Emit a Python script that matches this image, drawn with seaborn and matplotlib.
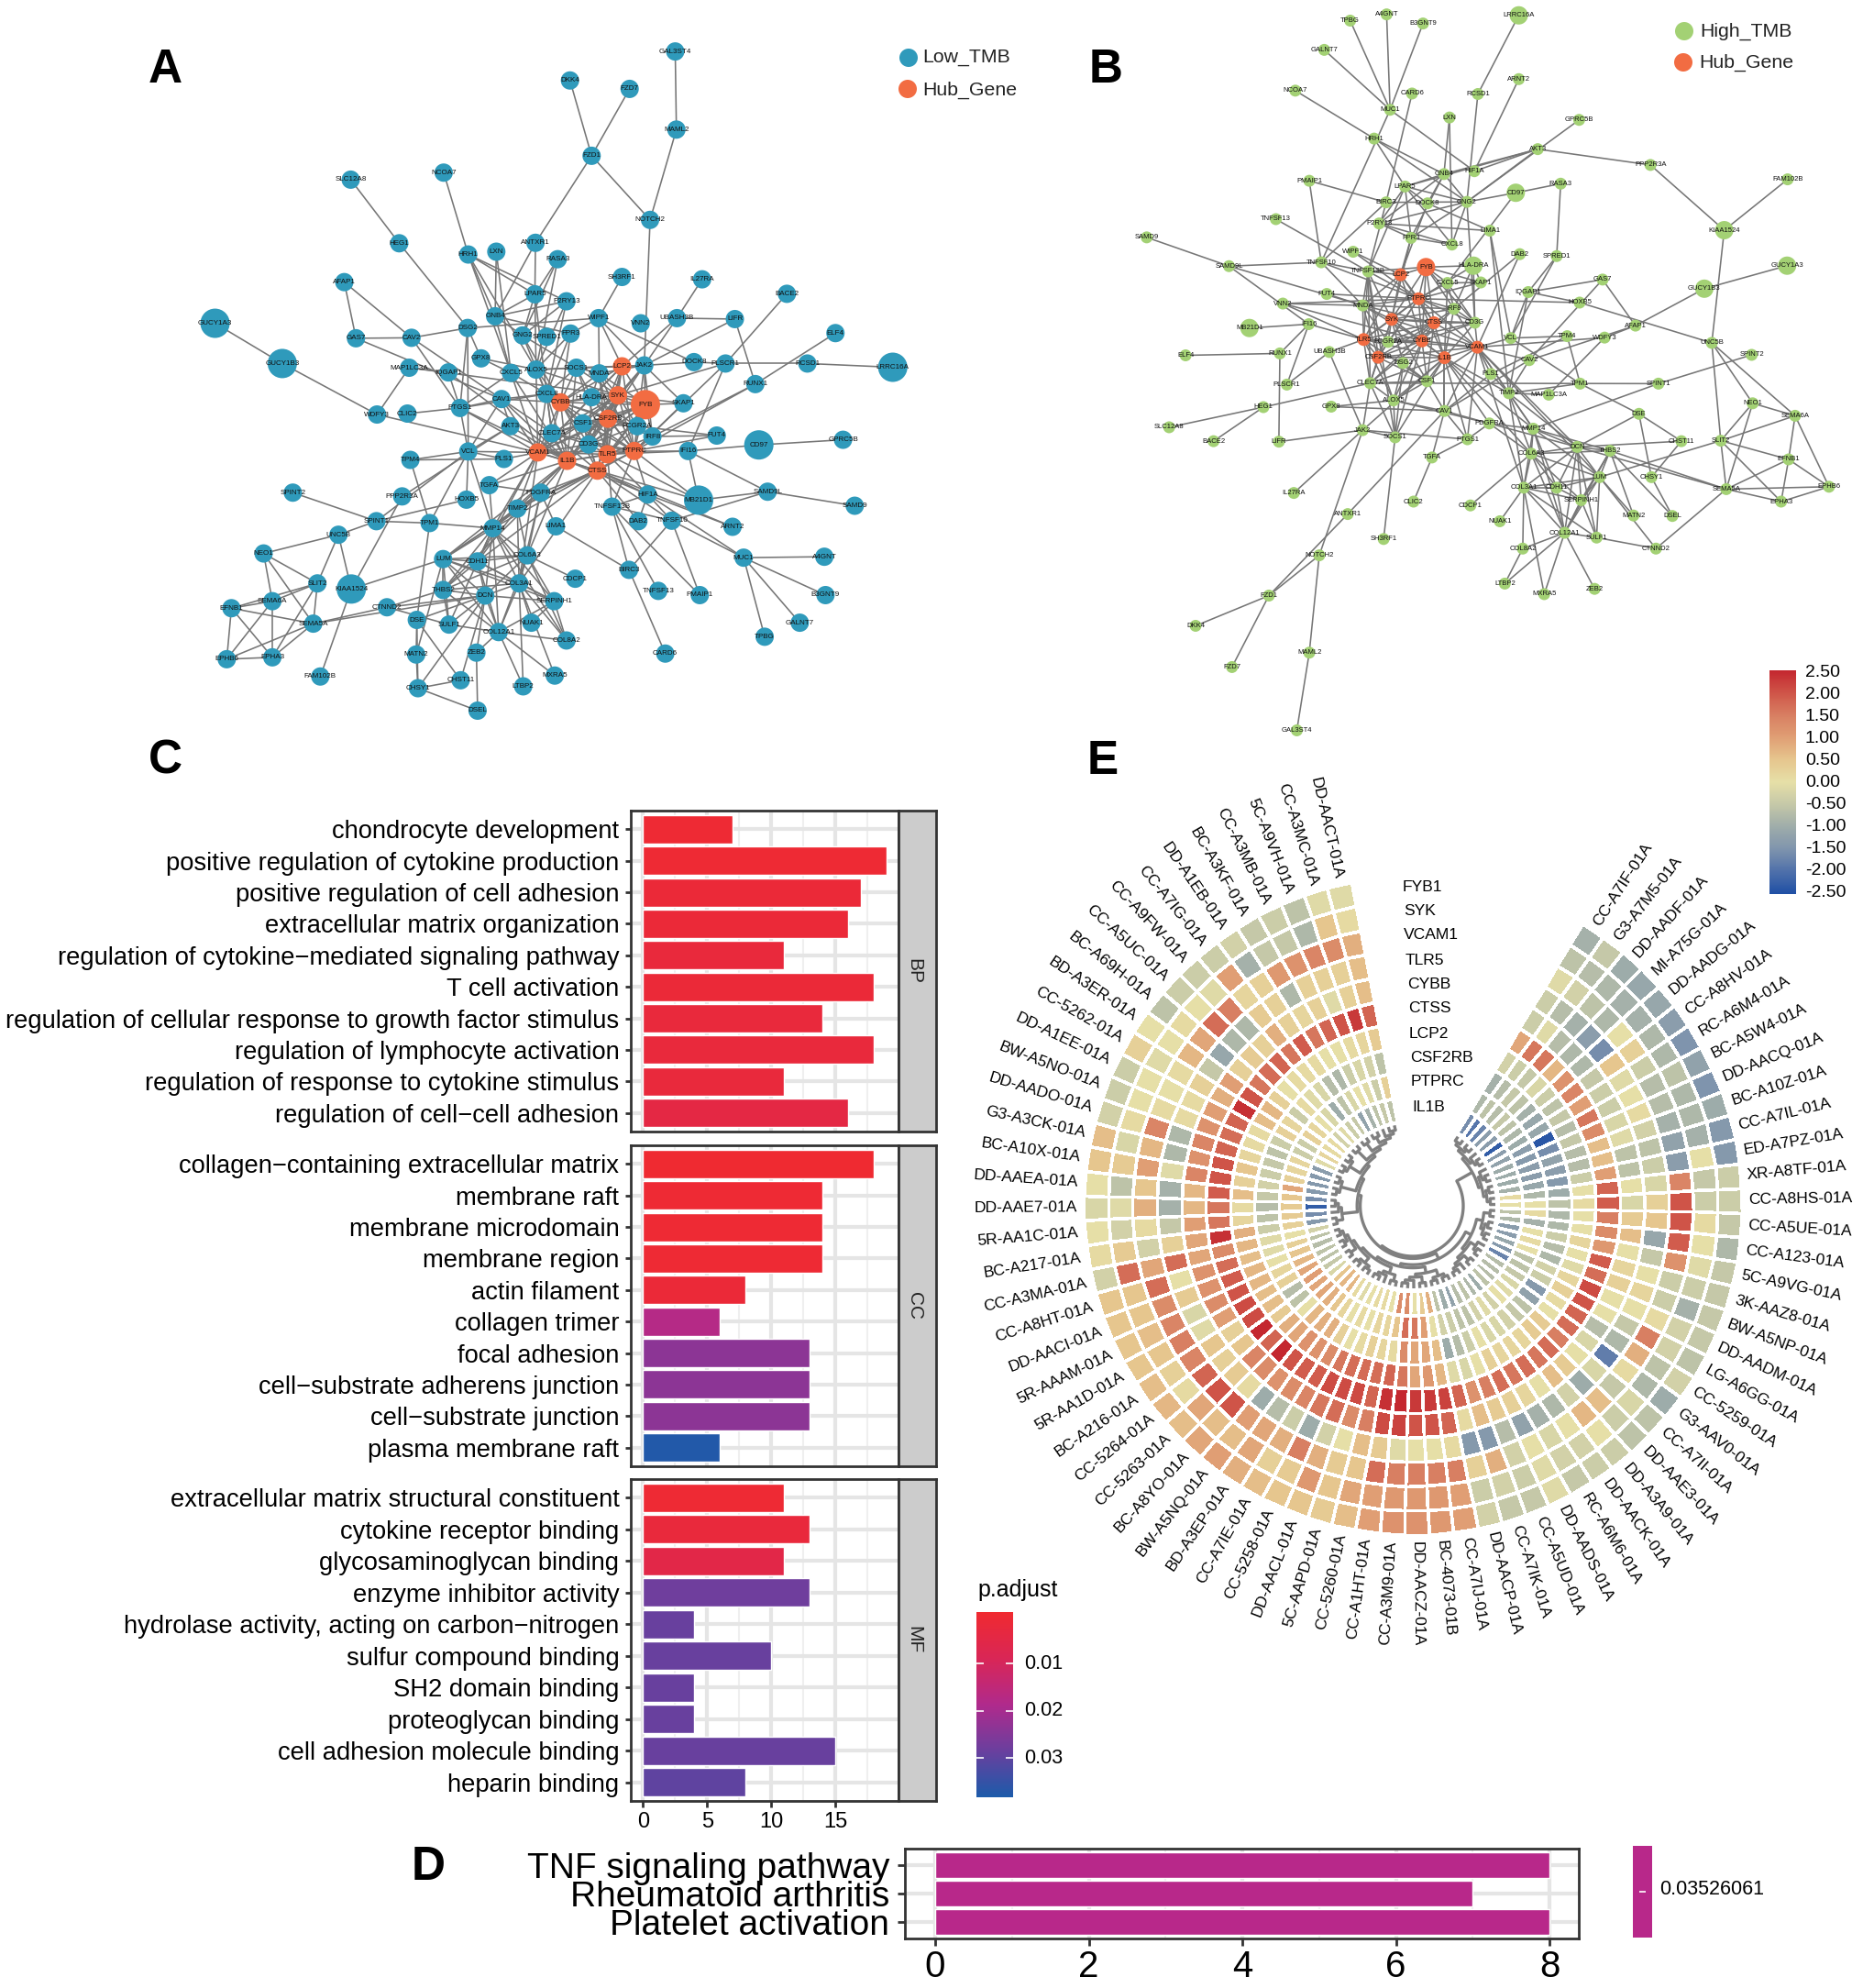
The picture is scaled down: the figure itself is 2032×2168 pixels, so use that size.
import numpy as np
import pandas as pd
import matplotlib
matplotlib.use("Agg")
import matplotlib.pyplot as plt
from matplotlib.collections import LineCollection
from matplotlib.colors import LinearSegmentedColormap
import seaborn as sns

# === Panel A network (layout units of the drawing, 1568 x 1568) ===
names_a = ["GAL3ST4","DKK4","FZD7","MAML2","FZD1","NOTCH2","NCOA7","SLC12A8","HEG1","ANTXR1","HRH1","LXN","RASA3","SH3RF1","IL27RA","BACE2","AFAP1","LPAR5","P2RY13","GNB4","WIPF1","VNN2","UBASH3B","LIFR","ELF4","GUCY1A3","GAS7","CAV2","DSG2","GNG2","SPRED1","FPR3","GPX8","MAP1LC3A","IQGAP1","CXCL5","ALOX5","SOCS1","MNDA","LCP2","JAK2","DOCK8","PLSCR1","RCSD1","LRRC16A","GUCY1B3","RUNX1","CXCL8","HLA-DRA","SYK","FYB","SKAP1","CYBB","CAV1","WDFY3","CLIC2","PTGS1","CSF2RB","CSF1","FCGR2A","AKT3","CLEC7A","IRF8","FUT4","CD97","GPRC5B","CD3G","VCAM1","PLS1","IL1B","TLR5","PTPRC","IFI16","TPM4","VCL","CTSS","TGFA","PDGFRA","HOXB5","PPP2R3A","SPINT2","HIF1A","MB21D1","SAMD9L","SAMD9","TNFSF13B","TIMP2","DAB2","TNFSF10","ARNT2","SPINT1","TPM1","LIMA1","MMP14","UNC5B","NEO1","MUC1","A4GNT","LUM","CDH11","COL6A3","CDCP1","BIRC3","SLIT2","KIAA1524","COL3A1","THBS2","DCN","TNFSF13","PMAIP1","B3GNT9","SEMA6A","SERPINH1","EFNB1","CTNND2","DSE","SULF1","SEMA5A","NUAK1","GALNT7","COL12A1","COL8A2","TPBG","MATN2","ZEB2","CARD6","EPHB6","EPHA3","FAM102B","MXRA5","CHST11","LTBP2","CHSY1","DSEL"]
x_a = [998,818,920,1000,855,955,602,443,526,759,644,692,797,907,1044,1189,432,758,812,690,867,939,1001,1100,1272,211,452,547,643,737,778,819,666,543,610,717,760,829,868,907,945,1030,1084,1224,1370,326,1135,778,855,900,947,1012,802,701,488,540,630,883,840,933,716,787,959,1069,1141,1285,850,763,705,813,882,928,1020,545,644,865,680,768,641,531,344,951,1038,1156,1305,890,728,935,992,1096,487,578,794,686,422,294,1115,1253,601,660,745,827,919,386,444,731,601,673,969,1040,1255,309,791,239,505,556,611,379,752,1211,696,812,1151,555,658,981,231,309,391,792,631,738,558,660]
y_a = [110,172,190,277,333,470,369,384,520,519,544,538,554,592,597,628,603,629,644,676,680,691,680,682,712,691,723,722,701,717,720,713,766,786,796,797,790,786,798,783,781,774,777,777,785,777,821,842,849,845,865,862,860,853,886,884,872,895,905,911,911,926,933,931,951,940,950,967,981,985,971,964,964,983,965,1006,1037,1053,1068,1061,1053,1057,1069,1051,1081,1083,1087,1114,1113,1126,1114,1118,1125,1129,1143,1183,1192,1190,1195,1200,1187,1237,1218,1247,1259,1247,1261,1273,1263,1272,1272,1285,1285,1300,1298,1325,1335,1333,1331,1331,1351,1369,1361,1399,1395,1397,1409,1405,1446,1444,1454,1467,1471,1519]
hubs_a = ["LCP2","SYK","FYB","CYBB","CSF2RB","VCAM1","IL1B","TLR5","PTPRC","CTSS"]
big_a = ["GUCY1A3","GUCY1B3","LRRC16A","CD97","MB21D1","KIAA1524","FYB"]
edges_a = """GAL3ST4:MAML2 MAML2:NOTCH2 NOTCH2:FZD1 DKK4:FZD1 FZD7:FZD1 FZD1:ANTXR1 NOTCH2:JAK2 NCOA7:HRH1 SLC12A8:HEG1 HEG1:DSG2
ANTXR1:GNB4 ANTXR1:LPAR5 HRH1:LPAR5 HRH1:GNB4 HRH1:ALOX5 HRH1:CXCL5 HRH1:P2RY13 LXN:CXCL5 LXN:GNB4 RASA3:GNG2 RASA3:LPAR5 RASA3:ALOX5 SH3RF1:WIPF1 IL27RA:UBASH3B BACE2:PLSCR1
AFAP1:GAS7 AFAP1:CAV2 GAS7:CAV2 GAS7:CAV1 CAV2:DSG2 CAV2:PTGS1 CAV2:CAV1 DSG2:PTGS1 DSG2:VCL DSG2:WIPF1 DSG2:GPX8 WIPF1:FPR3 WIPF1:JAK2 WIPF1:MNDA WIPF1:LCP2 WIPF1:DOCK8 LIFR:UBASH3B LIFR:JAK2 LIFR:RUNX1 ELF4:RUNX1 RUNX1:IRF8
RCSD1:LRRC16A RCSD1:PLSCR1 PLSCR1:DOCK8 DOCK8:JAK2 PLSCR1:IFI16 PLSCR1:SYK GUCY1A3:GUCY1B3 GUCY1B3:WDFY3 WDFY3:MAP1LC3A WDFY3:VCAM1 MAP1LC3A:IQGAP1 MAP1LC3A:SYK IQGAP1:PTGS1 CLIC2:PTGS1 PTGS1:CAV1 PTGS1:CXCL8 PTGS1:VCL IQGAP1:IL1B
FUT4:IRF8 FUT4:FCGR2A FUT4:PTPRC CD97:IFI16 CD97:GPRC5B IFI16:PTPRC IFI16:TLR5 IFI16:MB21D1 IFI16:SAMD9L MB21D1:SAMD9L SAMD9L:SAMD9 MB21D1:TLR5 MB21D1:PTPRC MB21D1:CTSS
CAV1:CXCL8 CAV1:VCL CAV1:AKT3 CAV1:CLEC7A AKT3:VCL AKT3:IL1B GPX8:ALOX5 GPX8:CXCL5 GNB4:LPAR5 GNB4:GNG2 GNB4:FPR3 GNB4:P2RY13 GNB4:CXCL5 GNG2:LPAR5 GNG2:P2RY13 GNG2:CXCL8 GNG2:SOCS1 LPAR5:CXCL8 LPAR5:ALOX5 P2RY13:ALOX5 P2RY13:CXCL8 FPR3:ALOX5 FPR3:CXCL8 CXCL5:CXCL8 CXCL5:PTGS1 CXCL5:VCAM1 ALOX5:CXCL8
VCL:TPM4 VCL:TPM1 VCL:PLS1 VCL:VCAM1 VCL:MMP14 VCL:HOXB5 VCL:SPINT1 TPM4:PLS1 TPM4:TPM1 PLS1:VCAM1 TGFA:PDGFRA TGFA:IL1B TGFA:VCAM1 TGFA:MMP14 HOXB5:SPINT1 PPP2R3A:AKT3 PPP2R3A:KIAA1524 SPINT2:SPINT1 SPINT1:TPM1 SPINT1:UNC5B TPM1:MMP14 TPM1:DSE
HIF1A:TNFSF10 HIF1A:ARNT2 HIF1A:MUC1 HIF1A:TNFSF13B HIF1A:DAB2 TNFSF13B:TNFSF13 TNFSF13B:BIRC3 TNFSF13B:PMAIP1 TNFSF13B:TNFSF10 DAB2:CTSS TNFSF10:BIRC3 TNFSF10:PMAIP1 TNFSF10:SAMD9L LIMA1:BIRC3 LIMA1:PDGFRA BIRC3:CARD6 MUC1:A4GNT MUC1:B3GNT9 MUC1:GALNT7 MUC1:TPBG MUC1:TNFSF10
UNC5B:NEO1 UNC5B:SLIT2 UNC5B:KIAA1524 NEO1:SLIT2 NEO1:SEMA6A NEO1:SEMA5A SLIT2:SEMA6A SLIT2:EFNB1 SLIT2:SEMA5A SLIT2:EPHA3 SEMA6A:EFNB1 SEMA6A:EPHB6 SEMA6A:EPHA3 EFNB1:SEMA5A EFNB1:EPHB6 EFNB1:EPHA3 SEMA5A:EPHB6 SEMA5A:EPHA3 EPHB6:EPHA3 SEMA5A:CTNND2 SEMA5A:DCN KIAA1524:LUM KIAA1524:FAM102B CTNND2:SULF1 CTNND2:DCN
MMP14:COL6A3 MMP14:LUM MMP14:CDH11 MMP14:COL3A1 MMP14:THBS2 MMP14:DCN MMP14:COL12A1 MMP14:TIMP2 MMP14:SERPINH1 MMP14:PDGFRA MMP14:SULF1 MMP14:COL8A2 TIMP2:PDGFRA TIMP2:COL6A3 TIMP2:LUM TIMP2:CDH11 TIMP2:COL3A1 PDGFRA:COL6A3 PDGFRA:COL3A1 PDGFRA:LUM PDGFRA:THBS2
LUM:CDH11 LUM:COL6A3 LUM:COL3A1 LUM:THBS2 LUM:DCN LUM:COL12A1 LUM:SERPINH1 LUM:SULF1 CDH11:COL6A3 CDH11:COL3A1 CDH11:DCN CDH11:THBS2 CDH11:COL12A1 CDH11:SERPINH1 COL6A3:COL3A1 COL6A3:DCN COL6A3:THBS2 COL6A3:SERPINH1 COL6A3:CDCP1 COL6A3:COL12A1 COL6A3:COL8A2 COL3A1:THBS2 COL3A1:DCN COL3A1:COL12A1 COL3A1:SERPINH1 COL3A1:NUAK1 COL3A1:COL8A2 COL3A1:MXRA5 COL3A1:LTBP2
THBS2:DCN THBS2:SULF1 THBS2:CTNND2 THBS2:COL12A1 DCN:SERPINH1 DCN:COL12A1 DCN:SULF1 DCN:DSE DCN:CHSY1 DCN:ZEB2 DCN:CHST11 SERPINH1:COL8A2 SERPINH1:COL12A1 SERPINH1:NUAK1 COL12A1:SULF1 COL12A1:COL8A2 COL12A1:MXRA5 COL12A1:LTBP2 COL12A1:ZEB2 DSE:MATN2 DSE:CHST11 DSE:CHSY1 MATN2:CHSY1 MATN2:LUM CHSY1:CHST11 CHSY1:DSEL DSEL:ZEB2""".split()
# hub to partner links for the dense core of A
core_a = """FYB:SYK FYB:SKAP1 FYB:LCP2 FYB:CYBB FYB:CSF2RB FYB:FCGR2A FYB:IRF8 FYB:PTPRC FYB:TLR5 FYB:HLA-DRA FYB:JAK2 FYB:MNDA FYB:CD3G FYB:CSF1 FYB:CTSS FYB:IL1B FYB:VCAM1
SYK:LCP2 SYK:CYBB SYK:CSF2RB SYK:FCGR2A SYK:PTPRC SYK:TLR5 SYK:CD3G SYK:HLA-DRA SYK:MNDA SYK:JAK2 SYK:CLEC7A SYK:CSF1 SYK:IL1B SYK:VCAM1 SYK:CTSS SYK:ALOX5 SYK:SOCS1 SYK:SKAP1
LCP2:CSF2RB LCP2:PTPRC LCP2:HLA-DRA LCP2:UBASH3B LCP2:JAK2 LCP2:CD3G LCP2:CYBB LCP2:VCAM1 LCP2:SOCS1 LCP2:ALOX5 LCP2:TLR5 LCP2:CTSS JAK2:UBASH3B JAK2:SKAP1 JAK2:PTPRC JAK2:IL1B JAK2:MNDA JAK2:SOCS1 JAK2:IRF8
CYBB:CSF2RB CYBB:FCGR2A CYBB:TLR5 CYBB:PTPRC CYBB:CD3G CYBB:CTSS CYBB:IL1B CYBB:VCAM1 CYBB:CSF1 CYBB:CLEC7A CYBB:CXCL8 CYBB:CAV1 CYBB:HLA-DRA CYBB:ALOX5 CYBB:GNG2 CYBB:FPR3 CYBB:SOCS1 CYBB:MNDA
CSF2RB:TLR5 CSF2RB:PTPRC CSF2RB:CTSS CSF2RB:IL1B CSF2RB:VCAM1 CSF2RB:CD3G CSF2RB:FCGR2A CSF2RB:HLA-DRA CSF2RB:MNDA CSF2RB:JAK2 CSF2RB:IRF8 CSF2RB:CSF1 CSF2RB:CLEC7A
TLR5:PTPRC TLR5:CTSS TLR5:IL1B TLR5:VCAM1 TLR5:CD3G TLR5:FCGR2A TLR5:MNDA TLR5:TNFSF13B TLR5:SOCS1 TLR5:IRF8 TLR5:CSF1 TLR5:HIF1A
PTPRC:CTSS PTPRC:IL1B PTPRC:VCAM1 PTPRC:CD3G PTPRC:IRF8 PTPRC:FCGR2A PTPRC:MNDA PTPRC:CSF1 PTPRC:CLEC7A PTPRC:HIF1A PTPRC:TNFSF13B PTPRC:TIMP2 PTPRC:HLA-DRA PTPRC:SKAP1 PTPRC:PLSCR1 PTPRC:RUNX1
IL1B:VCAM1 IL1B:CTSS IL1B:PDGFRA IL1B:MMP14 IL1B:TIMP2 IL1B:CXCL8 IL1B:CXCL5 IL1B:PTGS1 IL1B:SOCS1 IL1B:HIF1A IL1B:COL6A3 IL1B:LUM IL1B:CAV1 IL1B:CD3G IL1B:CSF1 IL1B:CLEC7A
VCAM1:CTSS VCAM1:MMP14 VCAM1:CAV1 VCAM1:PTGS1 VCAM1:ALOX5 VCAM1:CXCL8 VCAM1:CD3G VCAM1:TIMP2 VCAM1:COL3A1 VCAM1:CDH11 VCAM1:CLEC7A VCAM1:CSF1 VCAM1:HLA-DRA
CTSS:MMP14 CTSS:HIF1A CTSS:PDGFRA CTSS:ARNT2 CTSS:TIMP2 CTSS:TNFSF10 CTSS:COL3A1 CTSS:CDH11 CTSS:CD3G CTSS:CLEC7A CTSS:CSF1 FCGR2A:IRF8 FCGR2A:CD3G FCGR2A:HLA-DRA FCGR2A:CSF1 CD3G:CSF1 CD3G:CLEC7A CLEC7A:CSF1 CLEC7A:CXCL8 HLA-DRA:CD3G HLA-DRA:MNDA HLA-DRA:SOCS1 MNDA:SOCS1 SOCS1:ALOX5 SOCS1:CXCL8 CXCL8:CLEC7A""".split()

# === Panel B network ===
names_b = ["TPBG","A4GNT","B3GNT9","LRRC16A","GALNT7","ARNT2","NCOA7","CARD6","RCSD1","MUC1","LXN","GPRC5B","HRH1","AKT3","PPP2R3A","HIF1A","GNB4","PMAIP1","FAM102B","RASA3","LPAR5","CD97","BIRC3","DOCK8","GNG2","TNFSF13","P2RY13","KIAA1524","LIMA1","SAMD9","FPR3","CXCL8","WIPF1","DAB2","SPRED1","GUCY1A3","TNFSF10","SAMD9L","HLA-DRA","FYB","TNFSF13B","LCP2","CXCL5","SKAP1","GAS7","GUCY1B3","IQGAP1","FUT4","PTPRC","HOXB5","VNN2","MNDA","IRF8","SYK","CTSS","CD3G","IFI16","MB21D1","AFAP1","TPM4","VCL","WDFY3","TLR5","FCGR2A","CYBB","UNC5B","VCAM1","UBASH3B","RUNX1","ELF4","SPINT2","IL1B","CSF2RB","DSG2","CAV2","PLS1","CSF1","TPM1","PLSCR1","CLEC7A","SPINT1","TIMP2","MAP1LC3A","ALOX5","NEO1","GPX8","HEG1","CAV1","DSE","SEMA6A","PDGFRA","SLC12A8","MMP14","JAK2","SOCS1","BACE2","PTGS1","LIFR","CHST11","SLIT2","DCN","THBS2","COL6A3","TGFA","EFNB1","CHSY1","LUM","IL27RA","COL3A1","CDH11","EPHB6","SEMA5A","SERPINH1","EPHA3","CLIC2","CDCP1","ANTXR1","MATN2","DSEL","NUAK1","COL12A1","SULF1","SH3RF1","CTNND2","COL8A2","NOTCH2","LTBP2","ZEB2","MXRA5","FZD1","DKK4","MAML2","FZD7","GAL3ST4"]
x_b = [538,611,684,876,486,876,428,662,794,618,737,997,586,914,1140,787,726,456,1415,960,648,870,610,693,772,389,596,1288,818,130,660,742,544,878,952,1414,480,295,785,690,574,639,733,800,1044,1248,895,491,675,998,403,563,746,621,706,788,455,336,1110,973,860,1048,565,614,682,1263,793,496,397,208,1343,727,594,644,897,820,692,999,411,578,1156,856,936,625,1345,500,364,727,1117,1430,817,175,905,563,628,264,773,395,1202,1281,993,1059,901,702,1417,1142,1038,425,886,952,1498,1292,1001,1402,665,779,533,1106,1184,838,968,1032,605,1151,884,476,848,1028,927,375,228,456,301,431]
y_b = [43,30,49,32,104,165,189,195,196,229,245,250,289,311,344,357,363,377,374,383,389,402,422,424,421,457,466,480,481,495,496,510,525,530,534,554,547,555,554,557,566,573,590,589,583,602,609,613,623,631,633,637,644,666,673,673,676,684,679,701,705,704,708,713,711,715,724,734,737,741,740,746,745,757,751,780,795,800,802,799,800,820,823,835,841,848,849,857,863,867,883,891,894,897,912,920,916,921,920,919,932,940,946,954,958,995,995,1028,1017,1017,1015,1020,1043,1046,1046,1054,1072,1075,1076,1087,1111,1121,1124,1144,1144,1158,1217,1228,1239,1242,1305,1361,1391,1523]
hubs_b = ["FYB","LCP2","PTPRC","SYK","CTSS","TLR5","CYBB","VCAM1","IL1B","CSF2RB"]
big_b = ["LRRC16A","CD97","KIAA1524","GUCY1A3","GUCY1B3","MB21D1","HLA-DRA","FYB"]
edges_b = """TPBG:MUC1 A4GNT:MUC1 B3GNT9:MUC1 GALNT7:MUC1 LRRC16A:RCSD1 RCSD1:GNG2 ARNT2:HIF1A NCOA7:HRH1 CARD6:BIRC3 MUC1:HIF1A MUC1:TNFSF10 LXN:CXCL8 LXN:GNB4 GPRC5B:GNG2 HRH1:GNB4 HRH1:GNG2 HRH1:LPAR5 AKT3:HIF1A AKT3:GNB4 AKT3:PPP2R3A AKT3:LPAR5 AKT3:GNG2 PPP2R3A:KIAA1524 FAM102B:KIAA1524 KIAA1524:UNC5B RASA3:SPRED1 RASA3:CD97 CD97:GNG2 CD97:CXCL5 GNG2:GNB4 GNG2:LPAR5 GNG2:P2RY13 GNG2:BIRC3 GNG2:FPR3 GNG2:CXCL8 GNG2:CD3G GNB4:LPAR5 GNB4:P2RY13 GNB4:FPR3 GNB4:DOCK8 LPAR5:P2RY13 LPAR5:CXCL8 LPAR5:FPR3 LPAR5:DOCK8 LPAR5:TNFSF13B P2RY13:FPR3 P2RY13:CXCL8 P2RY13:LIMA1 FPR3:CXCL8 DOCK8:LIMA1 DOCK8:LCP2 BIRC3:TNFSF10 BIRC3:TNFSF13B PMAIP1:BIRC3 PMAIP1:TNFSF10 TNFSF13:TNFSF13B SAMD9:SAMD9L SAMD9L:TNFSF10 SAMD9L:IFI16 SAMD9L:MNDA TNFSF10:TNFSF13B TNFSF10:MNDA TNFSF10:PTPRC
GUCY1A3:GUCY1B3 GUCY1B3:AFAP1 AFAP1:GAS7 AFAP1:CAV2 GAS7:IQGAP1 GAS7:CAV2 IQGAP1:VCL IQGAP1:TIMP2 IQGAP1:SPRED1 HOXB5:UNC5B HOXB5:IQGAP1 HOXB5:PTPRC UNC5B:SLIT2 UNC5B:NEO1 UNC5B:SEMA6A SPINT2:SPINT1 SPINT1:CLEC7A SPINT1:MMP14 TPM4:VCL TPM4:TPM1 VCL:TPM1 VCL:VCAM1 WDFY3:VCAM1 WDFY3:MAP1LC3A WDFY3:AFAP1 CAV2:VCAM1 CAV2:TIMP2 CAV2:CAV1 TPM1:DSE TPM1:TIMP2 TPM4:PLS1 DAB2:IRF8 DAB2:VCAM1 LIMA1:VCL LIMA1:TIMP2 SPRED1:VCL
DSE:DCN DSE:CHSY1 DSE:CHST11 CHST11:DCN CHSY1:DSEL CHSY1:CHST11 THBS2:DSEL NEO1:SEMA6A NEO1:SLIT2 NEO1:SEMA5A SEMA6A:SLIT2 SEMA6A:EFNB1 SEMA6A:EPHB6 SLIT2:EFNB1 SLIT2:SEMA5A SLIT2:EPHA3 SLIT2:LUM EFNB1:SEMA5A EFNB1:EPHB6 EFNB1:EPHA3 SEMA5A:EPHB6 SEMA5A:EPHA3 EPHA3:EPHB6 SEMA5A:CTNND2 SEMA5A:DCN CTNND2:SULF1 CTNND2:LUM
HEG1:SLC12A8 HEG1:BACE2 HEG1:CLEC7A ELF4:RUNX1 RUNX1:LIFR RUNX1:IFI16 LIFR:JAK2 JAK2:IL27RA JAK2:UBASH3B JAK2:NOTCH2 JAK2:SOCS1 JAK2:PTGS1 JAK2:CLEC7A SOCS1:SH3RF1 SOCS1:CLEC7A SOCS1:ALOX5 ANTXR1:CAV1 ANTXR1:FZD1 NOTCH2:FZD1 NOTCH2:MAML2 MAML2:GAL3ST4 FZD1:DKK4 FZD1:FZD7 CLIC2:TGFA PTGS1:TGFA PTGS1:CAV1 TGFA:CAV1 CDCP1:COL6A3 NUAK1:COL3A1 IFI16:MB21D1 IFI16:PLSCR1 PLSCR1:UBASH3B UBASH3B:TLR5 VNN2:MNDA VNN2:PTPRC VNN2:TLR5 VNN2:CYBB FUT4:PTPRC FUT4:MNDA GPX8:ALOX5 GPX8:CAV1 DSG2:ALOX5 DSG2:CSF1 DSG2:SOCS1 MAP1LC3A:TIMP2 CAV1:PDGFRA CAV1:PLS1 CAV1:ALOX5 CAV1:CSF1 CAV1:IL1B PLS1:TIMP2 PLS1:VCAM1 PDGFRA:PTGS1 PDGFRA:ALOX5 PDGFRA:MMP14 PDGFRA:COL6A3 PDGFRA:DCN
TIMP2:MMP14 TIMP2:COL6A3 TIMP2:COL3A1 TIMP2:DCN MMP14:COL6A3 MMP14:COL3A1 MMP14:DCN MMP14:THBS2 MMP14:LUM MMP14:CDH11 MMP14:COL12A1 COL6A3:DCN COL6A3:THBS2 COL6A3:LUM COL6A3:COL3A1 COL6A3:CDH11 COL6A3:SERPINH1 COL6A3:COL12A1 DCN:THBS2 DCN:LUM DCN:COL3A1 DCN:CDH11 DCN:SERPINH1 DCN:COL12A1 DCN:SULF1 THBS2:LUM THBS2:SERPINH1 THBS2:MATN2 THBS2:COL12A1 THBS2:SEMA5A LUM:COL3A1 LUM:CDH11 LUM:SERPINH1 LUM:COL12A1 LUM:SULF1 LUM:MATN2 COL3A1:CDH11 COL3A1:SERPINH1 COL3A1:COL12A1 COL3A1:COL8A2 COL3A1:MXRA5 COL3A1:SULF1 CDH11:SERPINH1 CDH11:COL12A1 SERPINH1:COL12A1 SERPINH1:SULF1 COL12A1:SULF1 COL12A1:COL8A2 COL12A1:MXRA5 COL12A1:ZEB2 COL12A1:LTBP2 COL8A2:LTBP2""".split()
core_b = """FYB:LCP2 FYB:PTPRC FYB:SKAP1 FYB:HLA-DRA FYB:SYK FYB:CXCL5 FYB:IRF8 FYB:CTSS FYB:CD3G FYB:TNFSF13B FYB:CYBB LCP2:PTPRC LCP2:SYK LCP2:MNDA LCP2:TNFSF13B LCP2:TLR5 LCP2:CTSS LCP2:CYBB LCP2:WIPF1 LCP2:FPR3
PTPRC:SYK PTPRC:CTSS PTPRC:TLR5 PTPRC:FCGR2A PTPRC:CYBB PTPRC:VCAM1 PTPRC:IL1B PTPRC:CSF2RB PTPRC:MNDA PTPRC:IRF8 PTPRC:CD3G PTPRC:CXCL5 PTPRC:SKAP1 PTPRC:TNFSF13B PTPRC:HLA-DRA PTPRC:WIPF1
SYK:CTSS SYK:TLR5 SYK:FCGR2A SYK:CYBB SYK:VCAM1 SYK:IL1B SYK:CSF2RB SYK:MNDA SYK:IRF8 SYK:CD3G SYK:TNFSF13B SYK:CLEC7A SYK:CSF1 SYK:DSG2 SYK:FPR3
CTSS:TLR5 CTSS:CYBB CTSS:VCAM1 CTSS:IL1B CTSS:CSF2RB CTSS:FCGR2A CTSS:IRF8 CTSS:CD3G CTSS:CSF1 CTSS:CLEC7A CTSS:MNDA
TLR5:CYBB TLR5:VCAM1 TLR5:IL1B TLR5:CSF2RB TLR5:FCGR2A TLR5:MNDA TLR5:IFI16 TLR5:CSF1 TLR5:ALOX5 TLR5:CLEC7A TLR5:TNFSF13B
CYBB:VCAM1 CYBB:IL1B CYBB:CSF2RB CYBB:FCGR2A CYBB:IRF8 CYBB:CD3G CYBB:CSF1 CYBB:CLEC7A CYBB:MNDA CYBB:SOCS1 CYBB:ALOX5
VCAM1:IL1B VCAM1:CSF2RB VCAM1:CD3G VCAM1:TIMP2 VCAM1:MMP14 VCAM1:COL3A1 VCAM1:DCN VCAM1:LUM VCAM1:CAV1 VCAM1:PTGS1 VCAM1:CSF1 VCAM1:IRF8
IL1B:CSF2RB IL1B:CSF1 IL1B:CAV1 IL1B:PTGS1 IL1B:TIMP2 IL1B:MMP14 IL1B:COL6A3 IL1B:PDGFRA IL1B:SOCS1 IL1B:CD3G IL1B:IRF8 IL1B:CLEC7A IL1B:ALOX5 IL1B:JAK2 IL1B:CXCL5
CSF2RB:FCGR2A CSF2RB:CSF1 CSF2RB:CLEC7A CSF2RB:ALOX5 CSF2RB:MNDA CSF2RB:TNFSF13B MNDA:TNFSF13B MNDA:FCGR2A MNDA:IRF8 CXCL5:IRF8 CXCL5:SKAP1 CXCL5:CD3G IRF8:CD3G FCGR2A:CD3G HLA-DRA:CD3G HLA-DRA:SKAP1 HLA-DRA:IRF8 TNFSF13B:CLEC7A TNFSF13B:SOCS1 CLEC7A:ALOX5 CLEC7A:CSF1 CSF1:ALOX5""".split()

# === Panel C enrichment bars ===
bp_terms = ["chondrocyte development","positive regulation of cytokine production","positive regulation of cell adhesion","extracellular matrix organization","regulation of cytokine−mediated signaling pathway","T cell activation","regulation of cellular response to growth factor stimulus","regulation of lymphocyte activation","regulation of response to cytokine stimulus","regulation of cell−cell adhesion"]
bp_counts = [7,19,17,16,11,18,14,18,11,16]
bp_p = [.001,.001,.002,.002,.003,.002,.003,.003,.003,.005]
cc_terms = ["collagen−containing extracellular matrix","membrane raft","membrane microdomain","membrane region","actin filament","collagen trimer","focal adhesion","cell−substrate adherens junction","cell−substrate junction","plasma membrane raft"]
cc_counts = [18,14,14,14,8,6,13,13,13,6]
cc_p = [.0003,.001,.001,.001,.002,.018,.024,.024,.024,.0375]
mf_terms = ["extracellular matrix structural constituent","cytokine receptor binding","glycosaminoglycan binding","enzyme inhibitor activity","hydrolase activity, acting on carbon−nitrogen","sulfur compound binding","SH2 domain binding","proteoglycan binding","cell adhesion molecule binding","heparin binding"]
mf_counts = [11,13,11,13,4,10,4,4,15,8]
mf_p = [.001,.003,.006,.028,.029,.029,.029,.029,.029,.030]

# === Panel D ===
kegg_terms = ["TNF signaling pathway","Rheumatoid arthritis","Platelet activation"]
kegg_counts = [8,7,8]

# === Panel E circular heatmap, outer ring first ===
samples = ["CC-A7IF-01A","G3-A7M5-01A","DD-AADF-01A","MI-A75G-01A","DD-AADG-01A","CC-A8HV-01A","RC-A6M4-01A","BC-A5W4-01A","DD-AACQ-01A","BC-A10Z-01A","CC-A7IL-01A","ED-A7PZ-01A","XR-A8TF-01A","CC-A8HS-01A","CC-A5UE-01A","CC-A123-01A","5C-A9VG-01A","3K-AAZ8-01A","BW-A5NP-01A","DD-AADM-01A","LG-A6GG-01A","CC-5259-01A","G3-AAV0-01A","CC-A7II-01A","DD-AAE3-01A","DD-A3A9-01A","DD-AACK-01A","RC-A6M6-01A","DD-AADS-01A","CC-A5UD-01A","CC-A7IK-01A","DD-AACP-01A","CC-A7IJ-01A","BC-4073-01B","DD-AACZ-01A","CC-A3M9-01A","CC-A1HT-01A","CC-5260-01A","5C-AAPD-01A","DD-AACL-01A","CC-5258-01A","CC-A7IE-01A","BD-A3EP-01A","BW-A5NQ-01A","BC-A8YO-01A","CC-5263-01A","CC-5264-01A","BC-A216-01A","5R-AA1D-01A","5R-AAAM-01A","DD-AACI-01A","CC-A8HT-01A","CC-A3MA-01A","BC-A217-01A","5R-AA1C-01A","DD-AAE7-01A","DD-AAEA-01A","BC-A10X-01A","G3-A3CK-01A","DD-AADO-01A","BW-A5NO-01A","DD-A1EE-01A","CC-5262-01A","BD-A3ER-01A","BC-A69H-01A","CC-A5UC-01A","CC-A9FW-01A","CC-A7IG-01A","DD-A1EB-01A","BC-A3KF-01A","CC-A3MB-01A","5C-A9VH-01A","CC-A3MC-01A","DD-AACT-01A"]
genes = ["FYB1","SYK","VCAM1","TLR5","CYBB","CTSS","LCP2","CSF2RB","PTPRC","IL1B"]
fyb1 = [-.9,-.5,-1.0,-1.1,-1.1,-1.3,-1.5,-1.2,-1.5,-1.0,-1.4,-1.4,-.4,-.4,-.5,-.8,-.5,-.5,-.5,-.5,-.6,-.3,-1.0,-.6,-.6,-.4,-.4,-.5,-.1,-.5,-.5,-.3,1.0,1.1,1.2,1.2,1.0,.6,.4,.5,.5,.6,.8,1.0,.9,.6,.7,.6,.5,.5,.5,.5,-.3,.1,0,-.2,0,.5,.6,-.3,-.4,-.4,.3,0,-.6,-.4,-.4,-.4,-.3,-.5,-.4,-.6,-.1,-.1]
syk = [-.6,-.7,-.8,-.9,-.9,-.8,-.8,-.6,-.8,-.8,-.9,0,-.5,-.4,.1,0,-.1,-.4,-.9,-.3,-.3,-.6,-.8,-.2,-.4,0,-.3,-.3,-.1,-.4,-.3,-.4,1.0,1.1,1.1,1.1,1.0,.9,.5,1.1,.4,.3,.9,.6,.6,.9,.1,.3,.5,.6,.5,.5,1.7,.4,-.3,-.1,-.6,.4,-.2,.1,0,0,-.1,0,.1,0,-.1,1.0,-.9,-.5,-.5,-.8,.5,.1]
vcam1 = [-.1,-.3,-.6,-.8,0,.3,-.4,-.7,-.7,-.9,-1.2,-1.3,1.4,2.0,2.0,1.9,1.2,-.4,-.4,.1,1.5,.8,.1,-.5,.6,.7,0,-.2,0,-.3,.8,.3,1.5,1.5,1.5,1.5,1.7,.5,.4,.8,1.5,.8,.9,1.0,2.0,2.0,1.8,1.4,1.5,1.4,1.3,1.7,.9,-.3,.1,.8,.5,1.0,.7,1.4,.1,0,.1,.7,.9,1.7,1.5,.2,.3,1.1,1.2,1.4,1.3,.8]
tlr5 = [-.4,-.7,-.9,-1.3,-1.6,.5,-.1,0,.1,-.3,-.6,-.4,-.2,.3,.5,-1.1,-.5,0,.2,0,-.5,-.8,-1.8,-.2,-1.0,-.3,-.8,-.9,-1.2,-.7,-1.4,-1.4,.1,0,0,-.1,.4,.6,0,-.3,-1.0,-.4,-.7,-1.0,.1,.4,.3,.5,-.1,-.2,.4,0,1.7,.3,-.5,-.9,-.9,-.1,-.8,-.8,.1,.1,.3,-.5,-1.1,-.8,-.8,.4,.3,-.8,.3,.3,.3,.6]
cybb = [-.4,-.1,-.7,-.8,-.8,-.5,-.4,-.4,-.2,-.1,-.6,-.6,0,-.2,.4,.6,0,.2,.3,0,0,-.7,-.2,0,.4,.6,0,.2,.3,.4,.6,.1,1.8,2.0,2.0,2.2,2.1,1.5,1.3,1.7,1.6,1.4,1.3,1.2,1.3,1.4,.5,.3,1.0,1.3,1.2,1.2,.9,.9,1.0,.7,.7,1.4,1.2,1.4,1.2,1.0,.8,1.0,.3,.4,.3,.8,.3,.2,.3,-.1,.3,.6]
ctss = [.9,1.6,1.6,.7,1.2,1.4,1.0,1.6,1.3,.6,.6,1.0,1.8,1.9,1.5,1.3,1.1,1.9,1.7,2.1,2.0,1.8,1.7,1.5,1.7,1.6,1.7,1.6,1.7,1.5,1.2,1.8,2.2,2.3,2.3,2.5,2.4,1.8,2.1,2.1,2.1,1.9,1.9,2.0,2.5,1.8,2.5,2.1,2.1,2.0,1.9,1.7,1.3,2.4,1.6,1.6,1.9,2.0,2.0,1.8,1.7,1.8,2.4,2.0,1.6,1.7,1.8,1.6,1.9,1.6,1.8,2.0,2.3,1.8]
lcp2 = [-.3,-.4,-.5,-.2,-.4,-.6,-.5,-.7,-.5,-.7,-.7,-.4,0,.1,0,0,.2,0,-.1,.2,.3,.1,0,.4,.4,.2,.2,.2,.3,0,-.2,-.1,.7,1.1,.9,1.6,1.8,1.7,1.7,1.7,1.6,1.3,1.2,1.2,.9,.8,.4,.6,.6,.7,.7,.6,.7,.8,.2,.1,.6,.3,.5,.2,.1,.1,.6,.7,.3,0,.1,.1,.1,0,0,.1,.2,.4]
csf2rb = [-.9,-.7,-.5,-.6,-.9,-1.1,-1.1,-2.4,-1.6,-1.2,-1.3,-1.4,-1.0,-.6,-.8,-.8,-.4,-.7,-.8,-.3,-.4,-1.4,-1.2,-.6,-.5,-.3,-.2,-.2,0,-.4,-.7,-1.0,.6,.9,.9,1.3,.1,.2,.3,.1,0,.3,.8,.8,.7,0,-.6,-.7,.3,.2,0,-.1,-.1,-.4,-.6,-.7,-.5,-.3,-.4,-.5,-.6,-.4,.3,.2,-.4,.1,-.1,-.2,-.7,-.8,-.4,-.2,-.3,-.6]
ptprc = [-.8,-.6,-.7,-.5,-.6,-.8,-1.0,-1.3,-1.4,-1.3,-1.3,-1.1,-.8,0,.1,-.9,0,.1,0,-.6,-.6,-.5,-.2,-.1,0,-.3,-.1,-.3,-.6,-.6,-.4,-.3,0,1.0,1.6,1.7,.5,.2,.2,0,.1,0,.2,.5,.8,.9,.9,1.0,.9,.7,.5,.3,0,.3,.4,.4,.5,.9,.3,.2,.2,-.4,-.4,.3,.2,0,-.2,-1.0,-.6,-.2,0,-.1,-.4,.3]
il1b = [-1.6,-1.9,-1.7,-1.3,-1.3,-2.3,-1.3,-1.2,-1.0,-1.0,-1.0,-.9,.1,0,-.6,-.8,-1.3,-1.3,-1.1,-1.4,-1.7,-.7,-.7,-.7,-.6,-1.0,-.8,-.6,-.7,-1.2,-1.0,-.6,.8,.4,0,1.3,1.3,0,.1,.1,0,-.1,.1,.7,.7,.5,-.2,-.5,-.6,-.6,-.7,-.6,-.3,-1.4,-1.6,-2.3,-1.6,-1.4,-1.4,-1.4,-1.3,-.1,.2,.1,.1,-.3,-.1,-.4,-.5,-1.2,-.9,-.6,-.5,-.6]
# dendrogram over the samples, nested merges of sample indices
tree_right = [[[[0,1],[2,3]],[4,[5,6]]],[[7,[8,9]],[[10,11],[12,13]]]]
tree_mid = [[[[14,15],[[16,17],[18,19]]],[[20,[21,22]],[[23,24],[25,[26,27]]]]],[[[[28,29],[30,31]],[[32,33],[34,[35,36]]]],[[[37,38],[39,[40,41]]],[[[42,43],[44,45]],[[46,47],[[48,49],[50,51]]]]]]]
tree_left = [[[52,53],[54,[55,56]]],[[[57,58],[59,60]],[[[61,62],[63,64]],[[65,66],[[67,68],[[69,70],[71,[72,73]]]]]]]]
heat_ticks = [2.5,2.0,1.5,1.0,.5,0,-.5,-1.0,-1.5,-2.0,-2.5]

# === Figure setup ===
W, H = 2033, 2168
sns.set_theme(style="white")
plt.rcParams["font.family"] = ["Liberation Sans", "DejaVu Sans"]
plt.rcParams.update({"text.color": "black", "xtick.color": "black", "ytick.color": "black", "axes.labelcolor": "black"})
fig = plt.figure(figsize=(W / 100, H / 100), dpi=100, facecolor="white")

def pix_axes(left, top, right, bottom, **kw):
    return fig.add_axes([left / W, 1 - bottom / H, (right - left) / W, (bottom - top) / H], **kw)

P_COLORS = ["#F02A30", "#D92656", "#B02A8C", "#6A3F9E", "#1C5BAA"]
P_MAX = 0.0383
p_cmap = LinearSegmentedColormap.from_list("padj", sns.blend_palette(P_COLORS, 256))
heat_cmap = LinearSegmentedColormap.from_list("heat", ["#2050A5", "#4F70AA", "#7F94AD", "#9EACAA", "#C5C8A8", "#E6DFA7", "#E6C68E", "#E09F74", "#D87F62", "#CF5548", "#C4272F"])

# === Networks ===
def draw_network(box, names, xs, ys, hubs, big, edges, node_col, d_node, d_big, d_hub, font):
    ax = pix_axes(*box)
    pos = dict(zip(names, zip(xs, ys)))
    segs = []
    for e in edges:
        a, b = e.split(":")
        segs.append([pos[a], pos[b]])
    ax.add_collection(LineCollection(segs, colors="#767676", linewidths=1.15, zorder=1))
    df = pd.DataFrame({"x": xs, "y": ys, "name": names})
    df["group"] = ["hub" if n in hubs else "other" for n in names]
    df["d"] = [d_big if n in big else d_hub if n in hubs else d_node for n in names]
    sizes = {d: (d * 0.72) ** 2 for d in df["d"].unique()}
    sns.scatterplot(data=df, x="x", y="y", hue="group", size="d", sizes=sizes, ax=ax, legend=False,
                    palette={"hub": "#F26C42", "other": node_col}, edgecolor=node_col, linewidth=0, zorder=2)
    for n, x, y in zip(names, xs, ys):
        ax.text(x, y, n, fontsize=font, ha="center", va="center", color="#111111", zorder=3)
    ax.set_xlim(0, 1568)
    ax.set_ylim(1568, 0)
    ax.axis("off")

draw_network((100, 0, 1100, 800), names_a, x_a, y_a, hubs_a, big_a, edges_a + core_a, "#2F9ABB", 20, 32, 20, 5.8)
draw_network((1180, 0, 2033, 820), names_b, x_b, y_b, hubs_b, big_b, edges_b + core_b, "#A3D174", 13, 20, 14, 5.5)

# === Panel C ===
def term_panel(top, bottom, terms, counts, pvals, strip):
    ax = pix_axes(688, top, 980, bottom)
    cols = [p_cmap(p / P_MAX) for p in pvals]
    sns.barplot(x=counts, y=terms, hue=terms, palette=cols, legend=False, width=0.9, saturation=1, ax=ax, orient="h", zorder=3)
    ax.set_xlim(-0.95, 19.91)
    ax.set_ylim(9.59, -0.59)
    ax.set_axisbelow(True)
    ax.set_xticks([0, 5, 10, 15])
    ax.set_xticks([2.5, 7.5, 12.5, 17.5], minor=True)
    ax.grid(True, which="major", color="#E5E5E5", lw=3)
    ax.grid(True, which="minor", axis="x", color="#EFEFEF", lw=1.5)
    ax.tick_params(axis="y", length=4, width=2, labelsize=19.7, color="#333333", pad=5, left=True)
    ax.tick_params(axis="x", which="minor", length=0)
    ax.tick_params(axis="x", which="major", length=5, width=2, labelsize=17, color="#333333", bottom=(strip == "MF"), labelbottom=(strip == "MF"))
    ax.set_xlabel("")
    ax.set_ylabel("")
    for s in ax.spines.values():
        s.set_color("#333333")
        s.set_linewidth(2)
    sax = pix_axes(980, top, 1021, bottom, facecolor="#CCCCCC", xticks=[], yticks=[])
    for s in sax.spines.values():
        s.set_color("#333333")
        s.set_linewidth(2)
    sax.text(0.42, 0.5, strip, rotation=-90, ha="center", va="center", fontsize=15, color="#222222", transform=sax.transAxes)

term_panel(884, 1234, bp_terms, bp_counts, bp_p, "BP")
term_panel(1249, 1599, cc_terms, cc_counts, cc_p, "CC")
term_panel(1613, 1964, mf_terms, mf_counts, mf_p, "MF")

# p.adjust colour bar
cax = pix_axes(1065, 1758, 1105, 1960)
grad = np.linspace(0, 1, 256).reshape(-1, 1)
sns.heatmap(grad, cmap=p_cmap, cbar=False, ax=cax, xticklabels=False, yticklabels=False)
for v in [0.01, 0.02, 0.03]:
    row = (v + 0.0009) / (P_MAX + 0.0009) * 256
    cax.hlines(row, 0, 0.2, color="white", lw=1.2)
    cax.hlines(row, 0.8, 1, color="white", lw=1.2)
    cax.text(1.3, row, f"{v:.2f}", fontsize=15.5, va="center", ha="left", clip_on=False)

# === Panel D ===
dax = pix_axes(987, 2016, 1722, 2114)
sns.barplot(x=kegg_counts, y=kegg_terms, color="#B8288A", width=0.9, saturation=1, ax=dax, orient="h", zorder=3)
dax.set_xlim(-0.394, 8.38)
dax.set_ylim(2.57, -0.57)
dax.set_axisbelow(True)
dax.set_xticks([0, 2, 4, 6, 8])
dax.set_xticks([1, 3, 5, 7], minor=True)
dax.grid(True, which="major", color="#E5E5E5", lw=3)
dax.grid(True, which="minor", axis="x", color="#EFEFEF", lw=1.5)
dax.tick_params(axis="x", which="major", length=6, width=2, labelsize=29, color="#333333", bottom=True, pad=3)
dax.tick_params(axis="y", which="major", length=6, width=2, labelsize=28, color="#333333", left=True, pad=6)
dax.tick_params(axis="x", which="minor", length=0)
dax.set_xlabel("")
dax.set_ylabel("")
for s in dax.spines.values():
    s.set_color("#333333")
    s.set_linewidth(2)

kax = pix_axes(1781, 2013, 1802, 2113, facecolor="#B8288A", xticks=[], yticks=[])
for s in kax.spines.values():
    s.set_visible(False)
kax.hlines(0.5, 0.35, 0.65, color="white", lw=1.2, transform=kax.transAxes)

# === Panel E ===
pax = pix_axes(1061, 835, 2021, 1795, projection="polar")
pax.set_theta_zero_location("N")
pax.set_theta_direction(-1)
pax.patch.set_alpha(0)
START, STEP = 31.0, 4.30
theta_edges = np.deg2rad(START + STEP * np.arange(len(samples) + 1))
r_edges = 93 + 26.6 * np.arange(len(genes) + 1)
heat = np.array([fyb1, syk, vcam1, tlr5, cybb, ctss, lcp2, csf2rb, ptprc, il1b])
pax.pcolormesh(theta_edges, r_edges, heat[::-1], cmap=heat_cmap, vmin=-2.5, vmax=2.5,
               edgecolors="white", linewidth=1.9, shading="flat")
for i, s in enumerate(samples):
    deg = START + STEP * (i + 0.5)
    if deg < 180:
        pax.text(np.deg2rad(deg), 366, s, rotation=90 - deg, rotation_mode="anchor", ha="left", va="center", fontsize=12.6, clip_on=False)
    else:
        pax.text(np.deg2rad(deg), 366, s, rotation=270 - deg, rotation_mode="anchor", ha="right", va="center", fontsize=12.6, clip_on=False)

# dendrogram
def height(node):
    return 0 if isinstance(node, int) else 1 + max(height(c) for c in node)

def draw_tree(node, r_parent=None):
    if isinstance(node, int):
        t = START + STEP * (node + 0.5)
        pax.plot(np.deg2rad([t, t]), [r_parent, 90], color="#808080", lw=2.4, solid_capstyle="butt")
        return t
    r = max(88 - 3.4 * height(node), 55)
    ts = [draw_tree(c, r) for c in node]
    arc = np.deg2rad(np.linspace(min(ts), max(ts), 60))
    pax.plot(arc, np.full(60, r), color="#808080", lw=2.4)
    mid = (min(ts) + max(ts)) / 2
    if r_parent is not None:
        pax.plot(np.deg2rad([mid, mid]), [r_parent, r], color="#808080", lw=2.4, solid_capstyle="butt")
    return mid

draw_tree([tree_right, [tree_mid, tree_left]])
pax.set_ylim(0, 480)
pax.axis("off")

# heat colour bar
hax = pix_axes(1930, 731, 1959, 975)
sns.heatmap(np.linspace(2.5, -2.5, 256).reshape(-1, 1), cmap=heat_cmap, vmin=-2.5, vmax=2.5, cbar=False, ax=hax, xticklabels=False, yticklabels=False)

# === Text and legends on a pixel overlay ===
over = pix_axes(0, 0, W, H)
over.set_xlim(0, W)
over.set_ylim(H, 0)
over.patch.set_alpha(0)
over.axis("off")
for lab, x, y in [("A", 180, 77), ("B", 1206, 77), ("C", 180, 830), ("D", 467, 2037), ("E", 1203, 830)]:
    over.text(x, y, lab, fontsize=37, fontweight="bold", ha="center", va="center")
legend_pts = pd.DataFrame({"x": [991, 990, 1837, 1836], "y": [63, 97, 34, 68],
                           "k": ["low", "hub", "high", "hub2"]})
sns.scatterplot(data=legend_pts, x="x", y="y", hue="k", s=(20 * 0.72) ** 2, ax=over, legend=False, linewidth=0,
                palette={"low": "#2F9ABB", "hub": "#F26C42", "high": "#A3D174", "hub2": "#F26C42"})
over.set_xlabel("")
over.set_ylabel("")
for txt, x, y in [("Low_TMB", 1006, 63), ("Hub_Gene", 1006, 98), ("High_TMB", 1854, 34), ("Hub_Gene", 1853, 68)]:
    over.text(x, y, txt, fontsize=15.3, ha="left", va="center", color="#222222")
over.text(1066, 1734, "p.adjust", fontsize=18, ha="left", va="center")
over.text(1810, 2061, "0.03526061", fontsize=15.5, ha="left", va="center")
gene_y = [968, 994, 1020, 1047, 1074, 1100, 1127, 1153, 1179, 1207]
gene_x = [1530, 1531, 1531, 1533, 1535, 1536, 1537, 1538, 1539, 1540]
for g, x, y in zip(genes, gene_x, gene_y):
    over.text(x, y, g, fontsize=12.6, ha="left", va="center")
for v, y in zip(heat_ticks, np.linspace(734, 974, 11)):
    over.text(1969, y, f"{v:.2f}", fontsize=14, ha="left", va="center")

fig.savefig("out.png", dpi=100, facecolor="white")
